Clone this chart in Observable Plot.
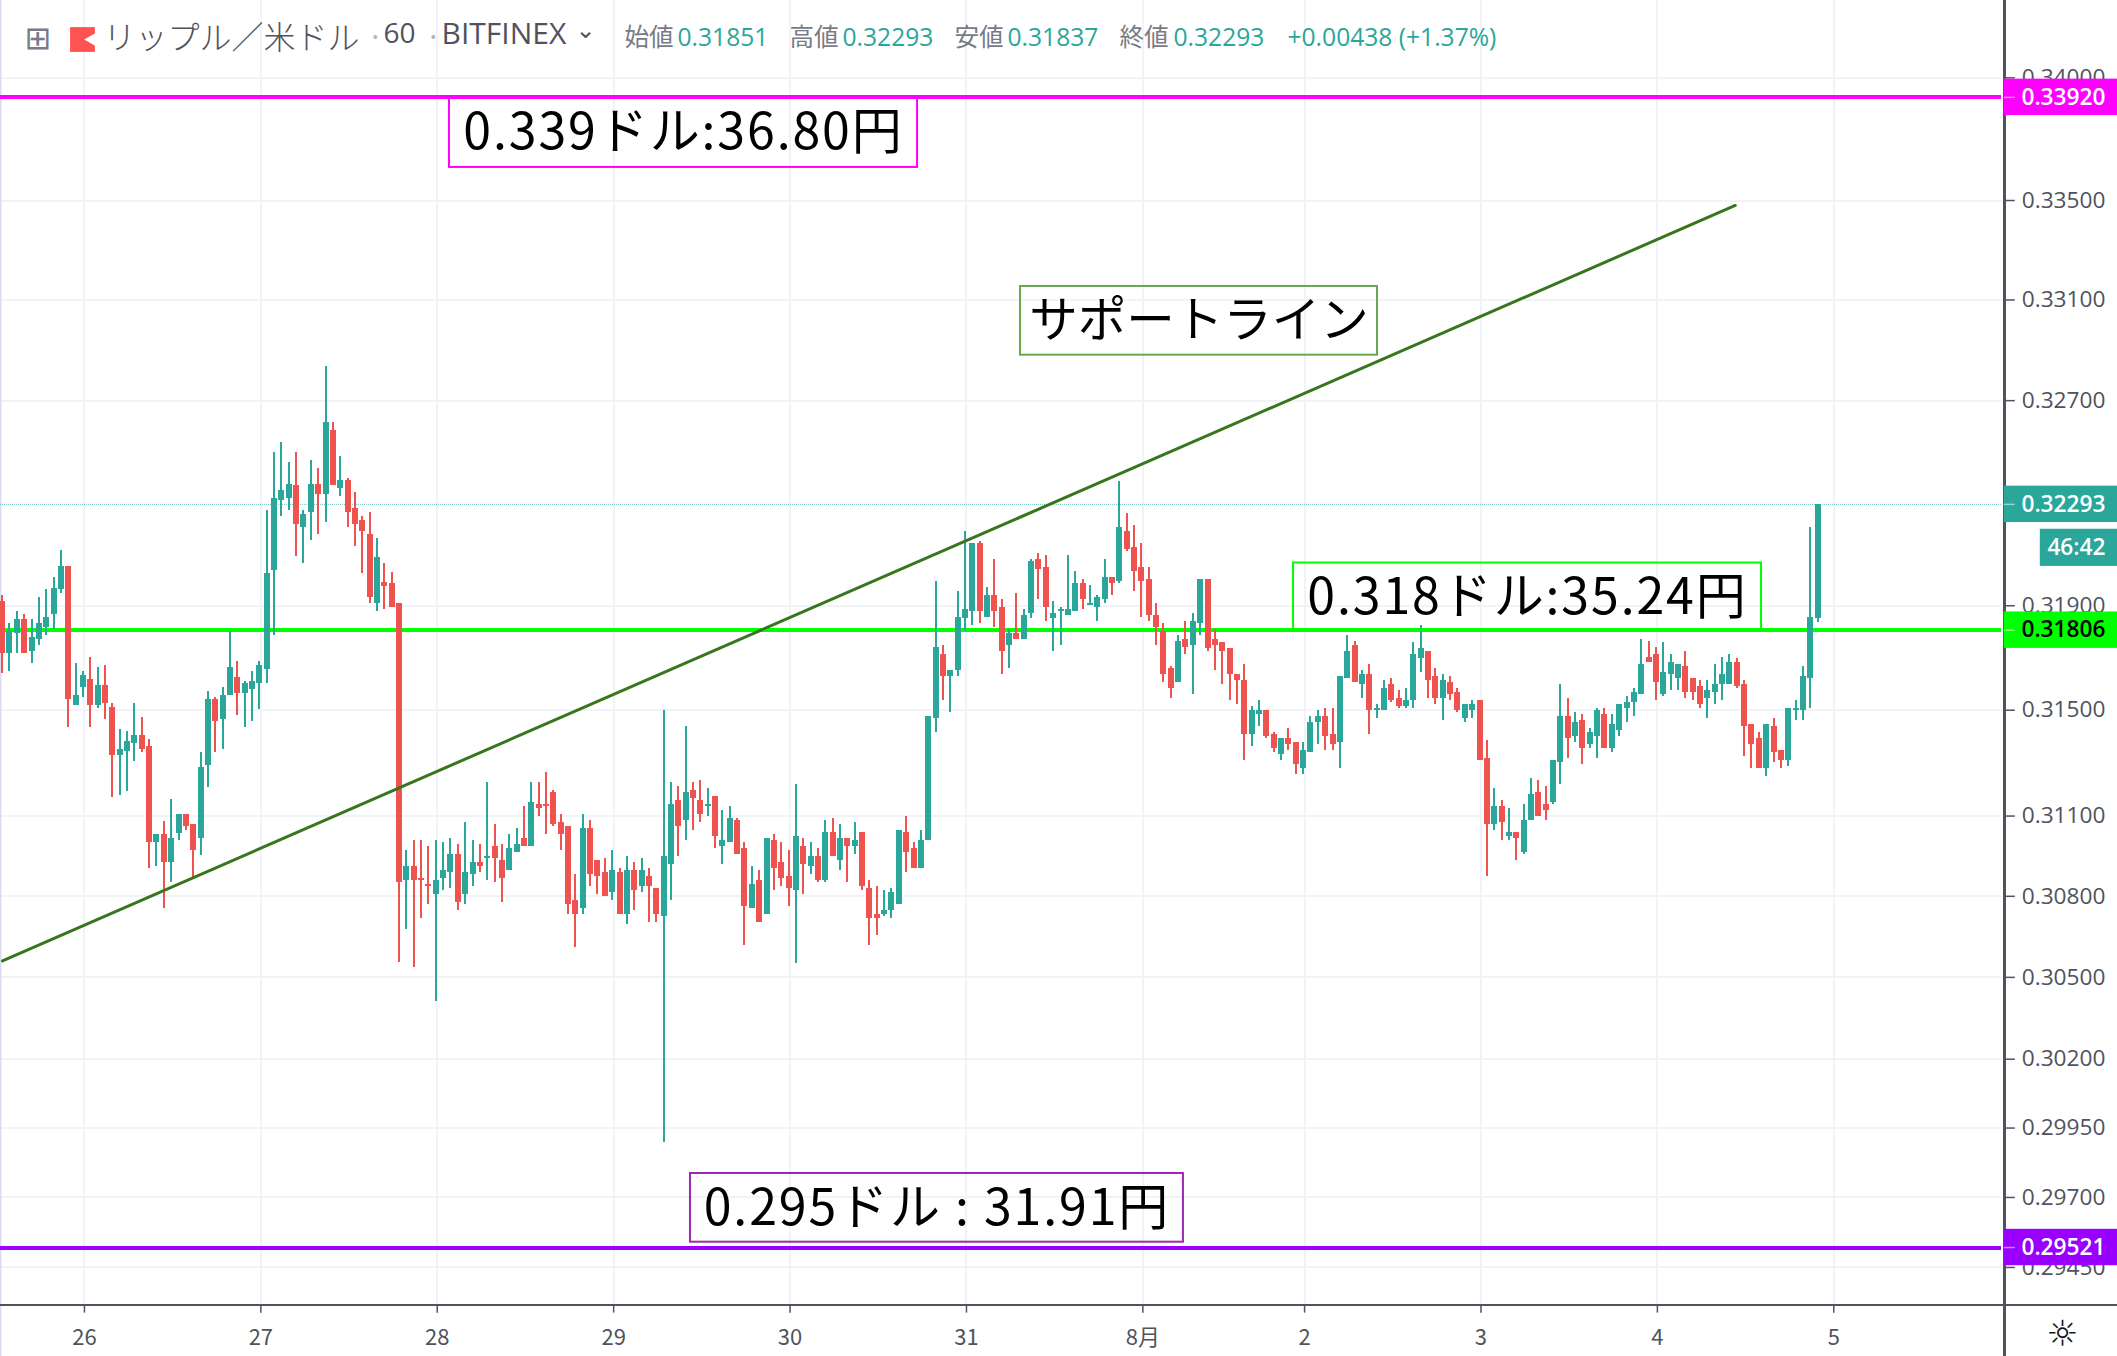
<!DOCTYPE html>
<html><head><meta charset="utf-8">
<style>html,body{margin:0;padding:0;background:#fff;overflow:hidden}svg{display:block}</style>
<script src="https://cdn.jsdelivr.net/npm/d3@7"></script>
<script src="https://cdn.jsdelivr.net/npm/@observablehq/plot@0.6"></script>
</head><body><div id="chart"></div>
<script>
const direction = ("rttrtttttr"+"ttrtrrtttr"+"rtrttrrttr"+"ttrttttttt"+"rttrtrtrrr"+"rtrrrtrrrt"+"ttrttrtrrt"+"trtrrrrrrt"+"rrrtrtrtrr"+"ttrtrrtrtt"+"rrtrtrrrtr"+"trtrtrtrrr"+"tttrrtttrt"+"tttrtrrtrt"+"trrttttrtt"+"trtrrrrrrr"+"trttrrrrrr"+"ttrrtrrttt"+"rrttrtrttr"+"rtttrrtrrt"+"trrtrtrttr"+"rttrtrttrt"+"ttttrrtttr"+"rrttttrrrr"+"trrttttt").split("");
const wickHigh = [.31938,.31830,.31876,.31868,.31847,.31930,.31961,.32008,.32115,.32053,
.31678,.31648,.31701,.31663,.31671,.31526,.31428,.31420,.31526,.31474,
.31390,.31030,.31081,.31164,.31104,.31104,.31067,.31338,.31571,.31549,
.31587,.31800,.31686,.31610,.31648,.31686,.32270,.32497,.32536,.32458,
.32497,.32270,.32466,.32433,.32835,.32614,.32480,.32395,.32341,.32246,
.32263,.32162,.32062,.32030,.31908,
.30971,.31008,.31008,.30986,.31008,.31001,.31016,.30994,.31076,.31008,
.30994,.31225,.31069,.30994,.31031,.31054,.31136,.31225,.31225,.31263,
.31196,.31106,.31062,.30882,.31106,.31084,.30934,.30942,.30971,.30904,
.30949,.30927,.30942,.30904,.30830,.31498,.31225,.31211,.31437,.31225,
.31233,.31203,.31173,.31121,.31136,.31091,.31001,.30912,.30897,.31016,
.31031,.31001,.30971,.31218,.31016,.31001,.30979,.31084,.31091,.31069,
.31016,.31076,.31038,.30860,.30837,.30822,.30830,.31046,.31099,.31001,
.31046,.31475,
.31995,.31749,.31650,.31956,.32188,.32142,.32150,.31971,.32080,.31925,
.31810,.31948,.31887,.32080,.32103,.32095,.31917,.31895,.32095,.32033,
.32003,.31979,.31941,.32080,.32010,.32383,.32258,.32211,.32142,.32049,
.31910,.31833,.31665,.31787,.31841,.31872,.32003,.32003,.31810,.31757,
.31734,.31635,.31673,.31513,.31536,.31498,.31415,.31392,.31430,.31377,
.31377,.31476,.31498,.31506,.31506,.31627,.31787,.31764,.31650,.31673,
.31521,.31612,.31620,.31574,.31581,.31757,.31825,.31726,.31658,.31635,
.31627,.31581,.31521,.31536,.31536,.31385,.31204,.31159,.31129,.31039,
.31144,.31242,.31234,.31212,.31309,.31597,.31544,.31491,.31483,.31430,
.31506,.31506,.31483,.31521,.31551,.31581,.31772,.31764,.31741,.31757,
.31711,.31673,.31726,.31620,.31612,.31612,.31673,.31703,.31711,.31696,
.31612,.31445,.31415,.31445,.31468,.31347,.31506,.31536,.31665,.32204,.32293];
const wickLow = [.31640,.31648,.31716,.31716,.31678,.31747,.31785,.31808,.31946,.31436,
.31518,.31549,.31436,.31505,.31466,.31171,.31179,.31194,.31306,.31338,
.30903,.30911,.30756,.30852,.31007,.31044,.30866,.30954,.31208,.31338,
.31352,.31556,.31480,.31436,.31457,.31503,.31602,.31785,.32246,.32270,
.32092,.32062,.32154,.32177,.32224,.32365,.32325,.32201,.32130,.32023,
.31908,.31878,.31885,.31893,.30556,
.30675,.30535,.30719,.30771,.30411,.30822,.30830,.30748,.30771,.30837,
.30889,.30860,.30852,.30778,.30897,.30964,.30986,.30986,.31099,.31031,
.31062,.30971,.30734,.30609,.30734,.30837,.30808,.30800,.30785,.30734,
.30697,.30748,.30815,.30704,.30704,.29897,.30785,.30949,.31008,.31046,
.31076,.31099,.30979,.30919,.31001,.30956,.30616,.30756,.30704,.30734,
.30822,.30837,.30763,.30550,.30808,.30882,.30852,.30852,.30949,.30897,
.30852,.30956,.30822,.30616,.30653,.30726,.30719,.30771,.30889,.30904,
.30904,.31008,
.31415,.31536,.31491,.31627,.31802,.31825,.31833,.31856,.31818,.31635,
.31658,.31772,.31772,.31849,.31925,.31841,.31726,.31749,.31864,.31879,
.31887,.31902,.31841,.31910,.31941,.31987,.32111,.31956,.31856,.31841,
.31749,.31604,.31544,.31604,.31711,.31559,.31787,.31726,.31650,.31597,
.31536,.31521,.31309,.31362,.31438,.31392,.31339,.31309,.31347,.31257,
.31257,.31339,.31370,.31347,.31347,.31279,.31620,.31604,.31544,.31407,
.31468,.31498,.31528,.31506,.31506,.31506,.31642,.31544,.31521,.31461,
.31536,.31491,.31453,.31468,.31309,.30875,.31047,.31009,.31009,.30934,
.30957,.31084,.31099,.31084,.31144,.31219,.31317,.31377,.31294,.31354,
.31317,.31354,.31339,.31400,.31453,.31476,.31559,.31681,.31536,.31551,
.31574,.31574,.31544,.31536,.31506,.31468,.31521,.31536,.31597,.31581,
.31325,.31279,.31279,.31249,.31302,.31279,.31287,.31461,.31461,.31506,.31837];
const bodyTop = [.31915,.31802,.31847,.31847,.31777,.31830,.31853,.31968,.32053,.32053,
.31556,.31633,.31617,.31593,.31593,.31512,.31352,.31382,.31405,.31405,
.31361,.31030,.31030,.31014,.31104,.31104,.31067,.31284,.31541,.31541,
.31556,.31663,.31625,.31602,.31610,.31671,.32023,.32317,.32348,.32371,
.32365,.32255,.32371,.32371,.32614,.32584,.32386,.32386,.32278,.32231,
.32177,.32085,.31991,.31985,.31908,
.30912,.30912,.30867,.30845,.30860,.30897,.30956,.30956,.30889,.30927,
.30927,.30949,.30986,.30934,.30979,.30994,.31016,.31150,.31143,.31143,
.31188,.31076,.31062,.30785,.31054,.31054,.30934,.30889,.30897,.30889,
.30897,.30897,.30897,.30874,.30830,.30949,.31143,.31158,.31188,.31196,
.31158,.31143,.31173,.31008,.31091,.31084,.30979,.30845,.30860,.31016,
.31008,.30927,.30874,.31023,.30986,.30949,.30949,.31038,.31038,.31016,
.31016,.31008,.31038,.30830,.30734,.30748,.30815,.31046,.31038,.30979,
.31008,.31475,
.31741,.31711,.31650,.31856,.31887,.32142,.32142,.31941,.31941,.31895,
.31795,.31795,.31864,.32072,.32080,.32049,.31872,.31887,.31887,.31987,
.31987,.31910,.31933,.32010,.32010,.32204,.32188,.32126,.32049,.32003,
.31864,.31802,.31658,.31764,.31772,.31841,.32003,.32003,.31772,.31757,
.31734,.31635,.31612,.31498,.31498,.31498,.31407,.31392,.31392,.31377,
.31347,.31453,.31476,.31476,.31407,.31627,.31726,.31749,.31635,.31635,
.31506,.31581,.31597,.31544,.31536,.31711,.31734,.31726,.31627,.31612,
.31604,.31566,.31521,.31521,.31536,.31317,.31137,.31137,.31039,.31039,
.31084,.31182,.31189,.31144,.31309,.31476,.31476,.31453,.31461,.31415,
.31498,.31483,.31445,.31521,.31528,.31566,.31673,.31703,.31711,.31642,
.31681,.31673,.31665,.31620,.31589,.31574,.31597,.31635,.31681,.31681,
.31597,.31445,.31392,.31445,.31438,.31347,.31506,.31506,.31627,.31856,.32293];
const bodyBottom = [.31716,.31716,.31792,.31716,.31724,.31770,.31815,.31868,.31961,.31541,
.31518,.31587,.31518,.31518,.31526,.31330,.31330,.31344,.31375,.31352,
.30999,.30999,.30925,.30925,.31036,.31059,.30971,.31014,.31292,.31457,
.31466,.31556,.31564,.31564,.31579,.31602,.31655,.32038,.32309,.32317,
.32216,.32201,.32263,.32332,.32332,.32365,.32356,.32263,.32216,.32186,
.31930,.31908,.31976,.31893,.30852,
.30860,.30860,.30860,.30837,.30808,.30867,.30889,.30778,.30808,.30882,
.30912,.30942,.30942,.30867,.30897,.30964,.30986,.30986,.31128,.31136,
.31069,.31031,.30771,.30734,.30756,.30882,.30874,.30800,.30815,.30734,
.30734,.30822,.30837,.30837,.30734,.30726,.30919,.31062,.31084,.31166,
.31106,.31136,.31023,.30986,.31001,.30956,.30763,.30756,.30704,.30734,
.30904,.30867,.30830,.30822,.30919,.30912,.30860,.30860,.30949,.30934,
.30986,.30986,.30837,.30719,.30719,.30734,.30748,.30771,.30964,.30904,
.30904,.31008,
.31468,.31627,.31627,.31650,.31849,.31879,.31879,.31856,.31879,.31726,
.31749,.31772,.31772,.31872,.32041,.31895,.31849,.31879,.31864,.31879,
.31925,.31902,.31895,.31925,.31987,.31995,.32118,.32033,.31995,.31864,
.31818,.31635,.31581,.31604,.31741,.31749,.31833,.31734,.31749,.31726,
.31635,.31612,.31407,.31407,.31483,.31400,.31354,.31332,.31370,.31294,
.31279,.31339,.31453,.31400,.31370,.31377,.31620,.31604,.31597,.31498,
.31498,.31498,.31536,.31513,.31513,.31536,.31696,.31612,.31544,.31544,
.31559,.31498,.31468,.31498,.31309,.31069,.31069,.31077,.31024,.31017,
.30964,.31084,.31099,.31122,.31152,.31302,.31392,.31400,.31354,.31370,
.31400,.31354,.31354,.31423,.31506,.31528,.31559,.31681,.31604,.31559,
.31635,.31620,.31566,.31566,.31521,.31544,.31566,.31597,.31597,.31589,
.31438,.31370,.31279,.31279,.31339,.31309,.31309,.31498,.31498,.31620,.31851];

const dayLabels = ["26","27","28","29","30","31","8月","2","3","4","5"];
const dayPositions = [.2,24.2,48.2,72.2,96.2,120.2,144.2,166.2,190.2,214.2,238.2];
const priceTicks = [.34,.335,.331,.327,.319,.315,.311,.308,.305,.302,.2995,.297,.2945];
const levels = [.3392,.31806,.29521];
const levelColors = ["#ff00ff","#00ff00","#9900ff"];
const lastPrice = .32293;
const trendX = [-10.95,224.8], trendY = [.30561,.3348];
const noteText = ["0.339ドル:36.80円","サポートライン","0.318ドル:35.24円","0.295ドル : 31.91円"];
const noteColors = ["#ff00ff","#6aa84f","#00ff00","#9c27b0"];
const noteSizes = [50,48.5,50,50];
const noteX1 = [49.86,127.55,164.69,82.65], noteX2 = [113.55,176.12,228.37,149.72];
const noteY1 = [.3392,.33154,.32065,.29786], noteY2 = [.33634,.32880,.31806,.29540];
const xMin=-11.22, xPlotEnd=261, xAxisLine=261.4, xMax=276.8;
const yTop=.34319, yBottom=.29135, yAxisLine=.29315, yTickEnd=.29288, yDayLabel=.29200;
const up="#2aa69a", down="#ef5350", ink="#50535e", gridColor="#f0f3f8";

const candles = direction.map((d,i)=>({i:i-11,d,hi:wickHigh[i],lo:wickLow[i],t:bodyTop[i],b:bodyBottom[i]}));
const notes = noteText.map((s,i)=>({s,c:noteColors[i],size:noteSizes[i],x1:noteX1[i],x2:noteX2[i],y1:noteY1[i],y2:noteY2[i],xc:(noteX1[i]+noteX2[i])/2,yc:Math.sqrt(noteY1[i]*noteY2[i])}));
const priceTags = [
 {y1:.3392,label:"0.33920",fill:"#ff00ff",text:"#fff"},
 {y1:.32293,label:"0.32293",fill:up,text:"#fff"},
 {y1:.31806,label:"0.31806",fill:"#00ff00",text:"#000"},
 {y1:.29521,label:"0.29521",fill:"#9900ff",text:"#fff"}];
const cjk='"Noto Sans CJK JP","Noto Sans",sans-serif', latin='"Open Sans",sans-serif';
const head=(s,dx,fill,size=24.6,extra={})=>Plot.text([s],{frameAnchor:"top-left",dx,dy:38,text:d=>d,fill,fontSize:size,fontFamily:cjk,textAnchor:"start",lineAnchor:"middle",...extra});

const chart = Plot.plot({
 width:2117,height:1356,margin:0,
 style:{background:"#fff"},
 x:{type:"linear",domain:[xMin,xMax],range:[0,2117],axis:null},
 y:{type:"log",domain:[yBottom,yTop],range:[1356,0],axis:null},
 marks:[
  Plot.ruleX(dayPositions,{y1:yAxisLine,y2:yTop,stroke:gridColor,strokeWidth:2,shapeRendering:"crispEdges"}),
  Plot.ruleY(priceTicks,{x1:xMin,x2:xPlotEnd,stroke:gridColor,strokeWidth:2,shapeRendering:"crispEdges"}),
  Plot.ruleX([xMin],{stroke:"#dcdcf0",strokeWidth:2}),
  Plot.ruleY([lastPrice],{x1:xMin,x2:xPlotEnd,stroke:up,strokeOpacity:.7,strokeWidth:1,strokeDasharray:"1,1"}),
  Plot.ruleY(levels,{x1:xMin,x2:xPlotEnd,stroke:(d,i)=>levelColors[i],strokeWidth:4,shapeRendering:"crispEdges"}),
  Plot.ruleX(candles,{x:"i",y1:"lo",y2:"hi",stroke:d=>d.d==="t"?up:down,strokeWidth:2,shapeRendering:"crispEdges"}),
  Plot.ruleX(candles,{x:"i",y1:"b",y2:"t",stroke:d=>d.d==="t"?up:down,strokeWidth:6,shapeRendering:"crispEdges"}),
  Plot.line(trendX.map((x,i)=>({x,y:trendY[i]})),{x:"x",y:"y",stroke:"#38761d",strokeWidth:3}),
  Plot.rect(notes,{x1:"x1",x2:"x2",y1:"y1",y2:"y2",stroke:"c",fill:"none",strokeWidth:2}),
  Plot.text(notes,{x:"xc",y:"yc",dy:1,text:"s",fill:"#000",fontSize:"size",fontFamily:cjk}),
  Plot.ruleY([yAxisLine],{stroke:ink,strokeWidth:2,shapeRendering:"crispEdges"}),
  Plot.ruleX(dayPositions,{y1:yAxisLine,y2:yTickEnd,stroke:ink,strokeWidth:1.5}),
  Plot.text(dayLabels,{x:(d,i)=>dayPositions[i],y:yDayLabel,text:d=>d,fill:ink,fontSize:22,fontFamily:cjk,fontWeight:d=>d==="8月"?700:400}),
  Plot.ruleX([xAxisLine],{stroke:ink,strokeWidth:2.5,shapeRendering:"crispEdges"}),
  Plot.ruleY(priceTicks,{x1:xAxisLine,x2:262.9,stroke:ink,strokeWidth:1.5}),
  Plot.text(priceTicks,{y:d=>d,frameAnchor:"right",dx:-12,text:d=>d.toFixed(5),fill:ink,fontSize:22.7,fontFamily:latin}),
  Plot.rect(priceTags,{x1:xAxisLine,x2:xMax,y1:d=>d.y1*1.0022,y2:d=>d.y1/1.0022,fill:"fill"}),
  Plot.ruleY(levels.concat(lastPrice),{x1:xAxisLine,x2:262.9,stroke:"#fff",strokeOpacity:.5,strokeWidth:1.5}),
  Plot.text(priceTags,{y:"y1",frameAnchor:"right",dx:-12,text:"label",fill:"text",fontSize:22.7,fontWeight:600,fontFamily:latin}),
  Plot.rect([lastPrice],{x1:266.3,x2:xMax,y1:.32196,y2:.32052,fill:up}),
  Plot.text(["46:42"],{y:.32124,frameAnchor:"right",dx:-12,text:d=>d,fill:"#fff",fontSize:22.7,fontWeight:600,fontFamily:latin}),
  Plot.text(["☼"],{frameAnchor:"bottom-right",dx:-55,dy:-22,lineAnchor:"middle",textAnchor:"middle",text:d=>d,fill:"#131722",fontSize:36,fontFamily:'"DejaVu Sans"'}),
  Plot.text(["⊞"],{frameAnchor:"top-left",dx:24,dy:38,lineAnchor:"middle",textAnchor:"start",text:d=>d,fill:"#777b88",fontSize:32,fontFamily:'"DejaVu Sans"'}),
  Plot.dot([0],{frameAnchor:"top-left",dx:82,dy:39,symbol:"square",r:14,fill:"#ff5252"}),
  Plot.dot([0],{frameAnchor:"top-left",dx:93,dy:39,symbol:"triangle",rotate:-90,r:6,fill:"#fff"}),
  head("リップル／米ドル",103,ink,32,{fontWeight:300}),
  head("·",367,"#b2b5be",28),
  head("60",383,ink,28,{fontFamily:latin,dy:34}),
  head("·",425,"#b2b5be",28),
  head("BITFINEX",441,ink,30,{fontFamily:latin,dy:34}),
  head("⌄",575,ink,24,{dy:30,fontFamily:'"DejaVu Sans"'}),
  head("始値",624,"#787b86"), head("0.31851",677,up,24.6,{fontFamily:latin}),
  head("高値",789,"#787b86"), head("0.32293",842,up,24.6,{fontFamily:latin}),
  head("安値",954,"#787b86"), head("0.31837",1007,up,24.6,{fontFamily:latin}),
  head("終値",1119,"#787b86"), head("0.32293",1173,up,24.6,{fontFamily:latin}),
  head("+0.00438 (+1.37%)",1287,up,24.6,{fontFamily:latin})
 ]
});
d3.select(chart).selectAll("text").filter(function(){return this.textContent.includes("ドル")&&this.textContent.includes("円")}).style("letter-spacing","1.9px");
document.getElementById("chart").append(chart);
</script></body></html>
